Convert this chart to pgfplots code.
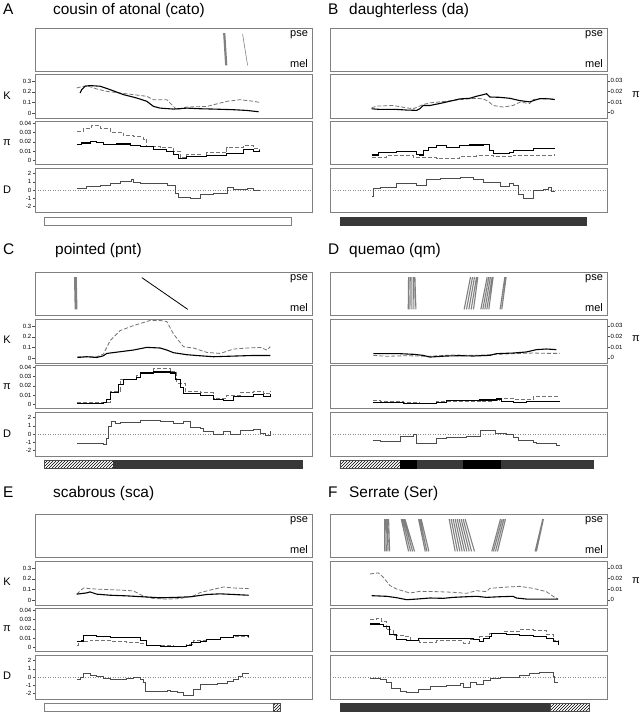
\documentclass[border=0pt]{standalone}
\usepackage{fontspec}
\setmainfont{Liberation Sans}
\usepackage{pgfplots}
\pgfplotsset{compat=1.18}
\usetikzlibrary{patterns}
\pgfplotsset{
 base/.style={scale only axis, width=277pt, anchor=north west,
   axis line style={black!50, line width=0.6pt}, xtick=\empty, ytick=\empty,
   scaled y ticks=false, scaled x ticks=false,
   tick align=outside, major tick length=2.5pt, tick style={black!70, line width=0.4pt},
   yticklabel style={font=\fontsize{6}{7}\selectfont, inner sep=1pt},
   /pgf/number format/assume math mode=true},
 L/.style={base, xmin=105, xmax=935},
 R/.style={base, xmin=30, xmax=862},
 pos/.style 2 args={at={(#1pt,-#2pt)}},
 topbox/.style={height=43pt, ymin=0, ymax=1},
 kL/.style={height=44pt, ymin=-0.046, ymax=0.368, ytick={0,0.1,0.2,0.3}, yticklabels={0,0.1,0.2,0.3}, ytick pos=left},
 kR/.style={height=44pt, ymin=-0.005, ymax=0.0365, ytick={0,0.01,0.02,0.03}, yticklabels={0,0.01,0.02,0.03}, ytick pos=right, yticklabel pos=right},
 pL/.style={height=43pt, ymin=-0.004, ymax=0.0426, ytick={0,0.01,0.02,0.03,0.04}, yticklabels={0,0.01,0.02,0.03,0.04}, ytick pos=left},
 pR/.style={height=43pt, ymin=-0.004, ymax=0.0426},
 dL/.style={height=44pt, ymin=-2.65, ymax=2.69, ytick={-2,-1,0,1,2}, yticklabels={-2,-1,0,1,2}, ytick pos=left},
 dR/.style={height=44pt, ymin=-2.65, ymax=2.69},
 barax/.style={height=8pt, ymin=0, ymax=1, hide axis, clip=false},
 sol/.style={black, line width=1.1pt},
 das/.style={black!55, line width=0.8pt, dash pattern=on 4pt off 2pt},
 dln/.style={black!70, line width=0.6pt, const plot},
 zln/.style={black!45, line width=0.5pt, dash pattern=on 1pt off 1.5pt},
 seg/.style={black!50, line width=1.1pt, unbounded coords=jump},
 dark/.style={fill=black!78, draw=black!78, line width=0.4pt},
 hatch/.style={pattern=north east lines, draw=black!70, line width=0.4pt},
}
\newcommand{\psemel}{%
 \node[anchor=base east, font=\fontsize{11}{13}\selectfont, inner sep=0pt] at (rel axis cs:0.986,0.81) {pse};
 \node[anchor=base east, font=\fontsize{11}{13}\selectfont, inner sep=0pt] at (rel axis cs:0.986,0.07) {mel};}
\begin{document}
\begin{tikzpicture}
\useasboundingbox (0pt,0pt) rectangle (640pt,-712pt);
\tikzset{ttl/.style={anchor=base west, font=\fontsize{15.4}{18}\selectfont, inner sep=0pt},
         alab/.style={font=\fontsize{11}{13}\selectfont, inner sep=0pt}}
% ================= A =================
\begin{axis}[L, topbox, pos={35}{28}]
\psemel
\addplot[black!50, line width=2.2pt] coordinates {(672,0.88) (678,0.13)};
\addplot[black!50, line width=0.6pt] coordinates {(727,0.86) (742,0.13)};
\end{axis}
\begin{axis}[L, kL, pos={35}{74}]
\addplot[das] coordinates {(230,0.237) (260,0.259) (290,0.227) (320,0.205) (360,0.189) (400,0.174) (440,0.158) (460,0.126) (500,0.126) (520,0.063) (530,0.032) (560,0.057) (620,0.063) (680,0.111) (720,0.126) (760,0.111) (778,0.101)};
\addplot[sol] coordinates {(240,0.189) (245,0.221) (255,0.253) (270,0.259) (300,0.253) (330,0.221) (370,0.174) (410,0.142) (440,0.111) (460,0.063) (480,0.047) (520,0.038) (560,0.047) (600,0.041) (640,0.038) (700,0.032) (740,0.025) (775,0.013)};
\end{axis}
\begin{axis}[L, pL, pos={35}{121}]
\addplot[das, const plot] coordinates {(232,0.0312) (250,0.0347) (275,0.0382) (300,0.0347) (330,0.0304) (370,0.0269) (400,0.0258) (430,0.0230) (440,0.0152) (480,0.0135) (520,0.0099) (540,0.0028) (560,0.0064) (600,0.0046) (620,0.0081) (680,0.0135) (730,0.0159) (760,0.0124) (778,0.0117)};
\addplot[sol, const plot] coordinates {(232,0.0170) (245,0.0188) (270,0.0205) (290,0.0195) (310,0.0170) (350,0.0177) (390,0.0159) (420,0.0152) (460,0.0117) (500,0.0099) (520,0.0064) (535,0.0018) (560,0.0046) (600,0.0039) (620,0.0053) (680,0.0074) (730,0.0117) (760,0.0099) (778,0.0117)};
\end{axis}
\begin{axis}[L, dL, pos={35}{168}]
\addplot[zln] coordinates {(105,0) (935,0)};
\addplot[dln] coordinates {(232,0.20) (260,0.45) (300,0.65) (330,0.86) (360,1.06) (395,1.27) (400,0.94) (420,0.78) (500,0.65) (525,-0.37) (535,-0.86) (570,-0.94) (600,-0.53) (640,-0.37) (680,0.37) (700,0.12) (740,0.20) (760,0.04) (778,-0.04)};
\end{axis}
\begin{axis}[L, barax, pos={35}{217}]
\addplot[fill=white, draw=black!50, line width=0.5pt] coordinates {(132,0) (873,0) (873,1) (132,1)} -- cycle;
\end{axis}
% ================= B =================
\begin{axis}[R, topbox, pos={330}{28}]
\psemel
\end{axis}
\begin{axis}[R, kR, pos={330}{74}]
\addplot[das] coordinates {(155,0.0046) (170,0.0062) (220,0.0068) (260,0.0046) (280,0.0037) (310,0.0077) (330,0.0093) (380,0.0108) (420,0.0124) (470,0.0136) (490,0.0130) (505,0.0108) (520,0.0068) (550,0.0053) (580,0.0068) (600,0.0099) (630,0.0087) (640,0.0124) (680,0.0136) (705,0.0124)};
\addplot[sol] coordinates {(155,0.0037) (180,0.0031) (230,0.0031) (260,0.0025) (290,0.0022) (300,0.0037) (310,0.0068) (330,0.0068) (360,0.0087) (390,0.0108) (420,0.0130) (450,0.0136) (470,0.0155) (490,0.0170) (500,0.0179) (510,0.0148) (540,0.0145) (570,0.0136) (600,0.0114) (630,0.0102) (660,0.0133) (690,0.0130) (705,0.0124)};
\end{axis}
\begin{axis}[R, pR, pos={330}{121}]
\addplot[das, const plot] coordinates {(155,0.0032) (200,0.0050) (280,0.0028) (350,0.0021) (420,0.0042) (470,0.0050) (520,0.0042) (580,0.0057) (640,0.0050) (705,0.0064)};
\addplot[sol, const plot] coordinates {(155,0.0057) (175,0.0085) (230,0.0092) (290,0.0067) (300,0.0057) (310,0.0103) (325,0.0138) (350,0.0156) (380,0.0138) (420,0.0156) (450,0.0166) (490,0.0173) (510,0.0103) (520,0.0078) (570,0.0085) (580,0.0103) (640,0.0127) (705,0.0138)};
\end{axis}
\begin{axis}[R, dR, pos={330}{168}]
\addplot[zln] coordinates {(30,0) (862,0)};
\addplot[dln] coordinates {(155,-0.78) (160,0.24) (180,0.37) (230,0.86) (290,0.65) (320,1.27) (360,1.47) (420,1.59) (460,1.27) (490,0.94) (540,0.53) (570,0.86) (580,0.65) (595,-0.49) (610,-0.98) (630,-0.98) (640,-0.04) (670,0.16) (685,0.37) (695,-0.16) (705,-0.24)};
\end{axis}
\begin{axis}[R, barax, pos={330}{217}]
\addplot[dark] coordinates {(60,0) (800,0) (800,1) (60,1)} -- cycle;
\end{axis}
% ================= C =================
\begin{axis}[L, topbox, pos={35}{272}]
\psemel
\addplot[black!50, line width=2.8pt] coordinates {(226,0.88) (228,0.13)};
\addplot[black, line width=0.8pt] coordinates {(425,0.87) (563,0.13)};
\end{axis}
\begin{axis}[L, kL, pos={35}{319}]
\addplot[das] coordinates {(232,0.013) (290,0.013) (310,0.038) (330,0.164) (360,0.259) (400,0.306) (450,0.354) (480,0.354) (500,0.344) (520,0.227) (550,0.107) (580,0.095) (620,0.054) (660,0.044) (700,0.085) (740,0.095) (780,0.101) (800,0.076) (810,0.107)};
\addplot[sol] coordinates {(232,0.006) (260,0.013) (290,0.006) (310,0.022) (320,0.044) (360,0.060) (400,0.076) (440,0.101) (480,0.095) (500,0.076) (520,0.051) (560,0.032) (600,0.022) (640,0.013) (700,0.019) (760,0.025) (810,0.025)};
\end{axis}
\begin{axis}[L, pL, pos={35}{365}]
\addplot[das, const plot] coordinates {(232,0.0018) (310,0.0025) (330,0.0143) (360,0.0268) (410,0.0311) (420,0.0350) (460,0.0393) (500,0.0393) (510,0.0357) (530,0.0232) (555,0.0143) (600,0.0125) (640,0.0061) (680,0.0096) (720,0.0125) (760,0.0143) (790,0.0118) (810,0.0143)};
\addplot[sol, const plot] coordinates {(232,0.0011) (310,0.0018) (320,0.0054) (330,0.0125) (355,0.0214) (370,0.0268) (410,0.0286) (420,0.0339) (460,0.0350) (510,0.0339) (525,0.0268) (540,0.0179) (550,0.0118) (600,0.0096) (640,0.0054) (670,0.0046) (700,0.0089) (760,0.0107) (790,0.0082) (810,0.0107)};
\end{axis}
\begin{axis}[L, dL, pos={35}{412}]
\addplot[zln] coordinates {(105,0) (935,0)};
\addplot[dln] coordinates {(232,-1.10) (310,-1.18) (318,-0.49) (325,0.94) (335,1.55) (345,1.35) (360,1.43) (420,1.67) (480,1.55) (520,1.35) (550,1.55) (570,0.86) (600,0.73) (608,0.33) (640,0.00) (670,0.33) (690,0.00) (720,0.45) (760,0.61) (780,0.12) (795,-0.08) (810,0.33)};
\end{axis}
\begin{axis}[L, barax, pos={35}{460}]
\addplot[hatch] coordinates {(133,0) (340,0) (340,1) (133,1)} -- cycle;
\addplot[dark] coordinates {(340,0) (907,0) (907,1) (340,1)} -- cycle;
\end{axis}
% ================= D =================
\begin{axis}[R, topbox, pos={330}{272}]
\psemel
\addplot[seg] coordinates {(266,0.88) (265,0.13) (0,nan) (271,0.88) (270,0.13) (0,nan) (276,0.88) (276,0.13) (0,nan) (281,0.88) (282,0.13) (0,nan) (285,0.88) (288,0.13)
 (0,nan) (452,0.88) (433,0.13) (0,nan) (458,0.88) (440,0.13) (0,nan) (464,0.88) (447,0.13) (0,nan) (470,0.88) (454,0.13) (0,nan) (474,0.88) (461,0.13)
 (0,nan) (502,0.88) (483,0.13) (0,nan) (507,0.88) (489,0.13) (0,nan) (512,0.88) (495,0.13) (0,nan) (517,0.88) (501,0.13) (0,nan) (520,0.88) (507,0.13)
 (0,nan) (555,0.88) (541,0.13) (0,nan) (559,0.88) (546,0.13)};
\end{axis}
\begin{axis}[R, kR, pos={330}{319}]
\addplot[das] coordinates {(160,0.0022) (200,0.0013) (260,0.0019) (320,0.0013) (400,0.0025) (470,0.0022) (530,0.0032) (580,0.0038) (640,0.0044) (680,0.0041) (720,0.0041)};
\addplot[sol] coordinates {(160,0.0038) (240,0.0038) (280,0.0032) (310,0.0022) (330,0.0006) (380,0.0016) (420,0.0019) (460,0.0016) (510,0.0022) (530,0.0038) (580,0.0044) (620,0.0054) (650,0.0076) (680,0.0082) (710,0.0076)};
\end{axis}
\begin{axis}[R, pR, pos={330}{365}]
\addplot[das, const plot] coordinates {(160,0.0047) (180,0.0032) (250,0.0022) (300,0.0014) (350,0.0029) (480,0.0036) (520,0.0040) (540,0.0065) (580,0.0058) (640,0.0086) (720,0.0090)};
\addplot[sol, const plot] coordinates {(160,0.0022) (230,0.0022) (250,0.0011) (300,0.0011) (350,0.0022) (380,0.0040) (480,0.0047) (530,0.0058) (545,0.0029) (580,0.0022) (620,0.0029) (720,0.0032)};
\end{axis}
\begin{axis}[R, dR, pos={330}{412}]
\addplot[zln] coordinates {(30,0) (862,0)};
\addplot[dln] coordinates {(160,-0.73) (180,-0.86) (240,-0.24) (280,0) (290,-1.10) (350,-0.45) (380,-0.33) (440,-0.24) (482,0.41) (525,0.16) (560,0) (580,-0.33) (595,-0.73) (640,-0.94) (650,-1.14) (710,-1.35) (720,-1.35)};
\end{axis}
\begin{axis}[R, barax, pos={330}{460}]
\addplot[hatch] coordinates {(60,0) (240,0) (240,1) (60,1)} -- cycle;
\addplot[fill=black, draw=black] coordinates {(240,0) (292,0) (292,1) (240,1)} -- cycle;
\addplot[dark] coordinates {(292,0) (430,0) (430,1) (292,1)} -- cycle;
\addplot[fill=black, draw=black] coordinates {(430,0) (545,0) (545,1) (430,1)} -- cycle;
\addplot[dark] coordinates {(545,0) (822,0) (822,1) (545,1)} -- cycle;
\end{axis}
% ================= E =================
\begin{axis}[L, topbox, pos={35}{514}]
\psemel
\end{axis}
\begin{axis}[L, kL, pos={35}{561}]
\addplot[das] coordinates {(230,0.056) (250,0.114) (270,0.108) (300,0.102) (350,0.096) (400,0.087) (430,0.037) (460,0.015) (500,0.009) (540,0.015) (580,0.040) (600,0.071) (640,0.102) (670,0.124) (700,0.114) (745,0.108)};
\addplot[sol] coordinates {(230,0.056) (260,0.068) (270,0.077) (290,0.056) (330,0.046) (380,0.040) (430,0.031) (480,0.022) (520,0.025) (570,0.031) (620,0.053) (660,0.059) (700,0.053) (745,0.046)};
\end{axis}
\begin{axis}[L, pL, pos={35}{608}]
\addplot[das, const plot] coordinates {(230,0.0018) (235,0.0064) (270,0.0079) (330,0.0068) (380,0.0054) (420,0.0046) (440,0.0025) (480,0.0018) (520,0.0011) (560,0.0036) (580,0.0071) (620,0.0089) (660,0.0104) (700,0.0118) (745,0.0100)};
\addplot[sol, const plot] coordinates {(230,0.0064) (245,0.0068) (250,0.0125) (260,0.0132) (290,0.0118) (330,0.0107) (400,0.0107) (420,0.0071) (440,0.0018) (480,0.0007) (520,0.0011) (560,0.0018) (575,0.0054) (600,0.0061) (620,0.0082) (660,0.0107) (700,0.0125) (745,0.0118)};
\end{axis}
\begin{axis}[L, dL, pos={35}{655}]
\addplot[zln] coordinates {(105,0) (935,0)};
\addplot[dln] coordinates {(230,-0.24) (240,-0.04) (250,0.49) (270,0.24) (290,0.16) (310,-0.16) (330,-0.24) (380,-0.16) (400,-0.04) (420,-0.24) (430,-0.65) (437,-1.67) (480,-1.76) (500,-1.55) (510,-1.67) (530,-1.88) (550,-2.16) (580,-1.47) (600,-0.86) (650,-0.78) (680,-0.45) (700,-0.24) (715,0.16) (725,0.49) (745,0.49)};
\end{axis}
\begin{axis}[L, barax, pos={35}{703}]
\addplot[fill=white, draw=black!50, line width=0.5pt] coordinates {(133,0) (820,0) (820,1) (133,1)} -- cycle;
\addplot[hatch] coordinates {(820,0) (840,0) (840,1) (820,1)} -- cycle;
\end{axis}
% ================= F =================
\begin{axis}[R, topbox, pos={330}{514}]
\psemel
\addplot[seg] coordinates {(194,0.88) (194,0.13) (0,nan) (198,0.88) (199,0.13) (0,nan) (202,0.88) (204,0.13) (0,nan) (206,0.88) (209,0.13)
 (0,nan) (244,0.88) (266,0.13) (0,nan) (248,0.88) (272,0.13) (0,nan) (252,0.88) (278,0.13) (0,nan) (255,0.88) (284,0.13)
 (0,nan) (296,0.88) (316,0.13) (0,nan) (300,0.88) (321,0.13) (0,nan) (304,0.88) (327,0.13)
 (0,nan) (388,0.88) (406,0.13) (0,nan) (394,0.88) (413,0.13) (0,nan) (400,0.88) (420,0.13) (0,nan) (406,0.88) (427,0.13) (0,nan) (412,0.88) (434,0.13) (0,nan) (418,0.88) (441,0.13) (0,nan) (424,0.88) (448,0.13) (0,nan) (430,0.88) (455,0.13) (0,nan) (436,0.88) (464,0.13)
 (0,nan) (542,0.88) (516,0.13) (0,nan) (547,0.88) (521,0.13) (0,nan) (552,0.88) (527,0.13) (0,nan) (557,0.88) (533,0.13)
 (0,nan) (669,0.88) (646,0.13) (0,nan) (671,0.88) (650,0.13)};
\end{axis}
\begin{axis}[R, kR, pos={330}{561}]
\addplot[das] coordinates {(150,0.0243) (175,0.0253) (190,0.0212) (210,0.0133) (230,0.0101) (270,0.0063) (300,0.0079) (350,0.0076) (400,0.0070) (440,0.0060) (470,0.0085) (500,0.0076) (510,0.0107) (550,0.0117) (600,0.0126) (640,0.0107) (680,0.0076) (705,0.0022) (715,0.0006)};
\addplot[sol] coordinates {(155,0.0038) (200,0.0032) (230,0.0019) (260,0.0000) (290,0.0006) (330,0.0016) (370,0.0013) (400,0.0022) (440,0.0028) (470,0.0032) (500,0.0022) (540,0.0028) (580,0.0032) (590,0.0016) (620,0.0006) (715,0.0006)};
\end{axis}
\begin{axis}[R, pR, pos={330}{608}]
\addplot[das, const plot] coordinates {(150,0.0303) (170,0.0314) (185,0.0278) (200,0.0189) (220,0.0129) (250,0.0118) (270,0.0071) (300,0.0057) (350,0.0071) (400,0.0071) (430,0.0046) (450,0.0082) (480,0.0114) (510,0.0154) (550,0.0171) (600,0.0189) (640,0.0182) (680,0.0136) (700,0.0071) (715,0.0036)};
\addplot[sol, const plot] coordinates {(150,0.0253) (180,0.0250) (190,0.0225) (210,0.0136) (230,0.0089) (260,0.0071) (290,0.0071) (295,0.0100) (330,0.0100) (420,0.0100) (460,0.0082) (480,0.0064) (490,0.0100) (510,0.0118) (515,0.0154) (560,0.0143) (600,0.0129) (640,0.0118) (680,0.0093) (700,0.0064) (715,0.0029)};
\end{axis}
\begin{axis}[R, dR, pos={330}{655}]
\addplot[zln] coordinates {(30,0) (862,0)};
\addplot[dln] coordinates {(150,-0.12) (180,-0.24) (200,-0.57) (215,-1.39) (240,-1.67) (260,-1.88) (295,-1.47) (330,-1.06) (380,-0.94) (420,-0.78) (430,-1.27) (450,-0.65) (470,-0.86) (490,-0.37) (510,-0.16) (540,-0.04) (580,0.04) (600,0.24) (630,0.49) (660,0.65) (690,0.57) (700,0.08) (705,-0.57) (715,-0.57)};
\end{axis}
\begin{axis}[R, barax, pos={330}{703}]
\addplot[dark] coordinates {(60,0) (692,0) (692,1) (60,1)} -- cycle;
\addplot[hatch] coordinates {(692,0) (808,0) (808,1) (692,1)} -- cycle;
\end{axis}
% ================= labels =================
\node[ttl] at (3pt,-14pt) {A};
\node[ttl] at (53pt,-14pt) {cousin of atonal (cato)};
\node[ttl] at (328pt,-14pt) {B};
\node[ttl] at (349pt,-14pt) {daughterless (da)};
\node[ttl] at (3pt,-254pt) {C};
\node[ttl] at (55pt,-254pt) {pointed (pnt)};
\node[ttl] at (328pt,-254pt) {D};
\node[ttl] at (349pt,-254pt) {quemao (qm)};
\node[ttl] at (3pt,-497pt) {E};
\node[ttl] at (53pt,-497pt) {scabrous (sca)};
\node[ttl] at (328pt,-497pt) {F};
\node[ttl] at (349pt,-497pt) {Serrate (Ser)};
\foreach \t in {28,272,514} {
  \node[alab] at (7pt,{-(\t+68)*1pt}) {K};
  \node[alab] at (7pt,{-(\t+114.5)*1pt}) {π};
  \node[alab] at (7pt,{-(\t+162)*1pt}) {D};
  \node[alab] at (636pt,{-(\t+67)*1pt}) {π};
}
\end{tikzpicture}
\end{document}
